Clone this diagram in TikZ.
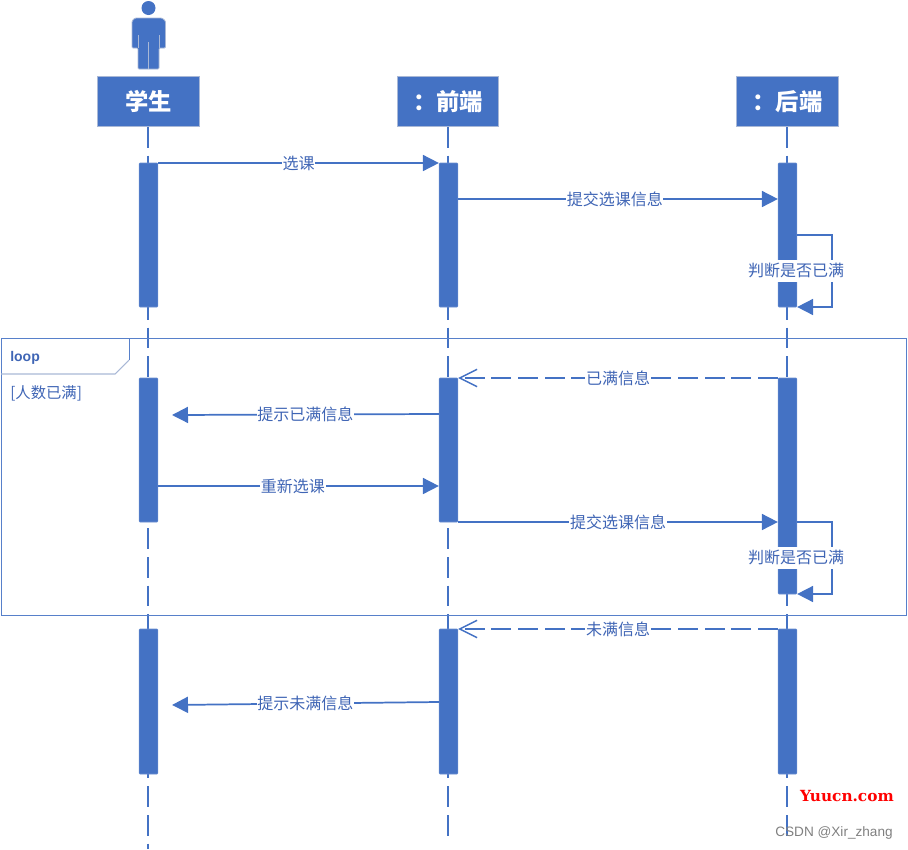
\documentclass[tikz,border=0pt]{standalone}
\usepackage{fontspec}
\setmainfont{Noto Sans CJK SC}
\newfontfamily\latinbold{Liberation Sans}
\newfontfamily\wmserif{DejaVu Serif}
\usetikzlibrary{arrows.meta}
\definecolor{mainblue}{HTML}{4472C4}
\definecolor{textblue}{HTML}{3F65B5}
\definecolor{edgegray}{HTML}{A9B8D6}
\tikzset{
  x=0.75pt,y=-0.75pt,
  header/.style={draw=edgegray,line width=0.8pt,fill=mainblue,text=white,font=\fontsize{17.5}{19}\selectfont\bfseries,minimum width=76pt,minimum height=37.5pt,inner sep=0pt},
  actbar/.style={draw=mainblue!80,line width=0.4pt,fill=mainblue,minimum width=14pt,inner sep=0pt,rounded corners=0.6pt},
  lifeline/.style={draw=mainblue,line width=1.5pt,dash pattern=on 15.5pt off 6pt},
  msg/.style={draw=mainblue,line width=1.3pt,-{Triangle[length=12pt,width=12pt]}},
  ret/.style={draw=mainblue,line width=1.5pt,dash pattern=on 15pt off 5pt,-{Straight Barb[length=13pt,width=13pt,line width=1.1pt]}},
  lab/.style={fill=white,text=textblue,font=\fontsize{12}{14}\selectfont,inner xsep=0.5pt,inner ysep=0.5pt},
  framebox/.style={draw=mainblue!90,line width=0.6pt},
}
\begin{document}
\begin{tikzpicture}
\useasboundingbox (0,0) rectangle (908,850);
% headers
\node[header] (stu) at (148.5,101.5) {学生};
\node[header] (fe) at (448,101.5) {：前端};
\node[header] (be) at (787.5,101.5) {：后端};
% free ends of lifelines
\coordinate (stuEnd) at (148,849);
\coordinate (feEnd) at (448,838);
\coordinate (beEnd) at (787,838);
\draw[lifeline] (148,127) -- (stuEnd);
\draw[lifeline] (fe.south) -- (feEnd);
\draw[lifeline] (787,127) -- (beEnd);
% actor
\fill[mainblue] (148.5,8) circle[radius=7];
\filldraw[fill=mainblue,draw=edgegray,line width=0.6pt,rounded corners=0.8pt]
  (132,48) -- (132,21) -- (135,18) -- (162,18) -- (165.5,21) -- (165.5,48) -- (159,48) -- (159,69) -- (138,69) -- (138,48) -- cycle;
\draw[edgegray,line width=0.6pt] (138,35) -- (138,48) (159,35) -- (159,48) (148.5,42) -- (148.5,69);
% loop frame
\draw[framebox] (1,338) rectangle (906,615);
\draw[framebox,draw=edgegray,line width=0.8pt] (1,374) -- (115,374) -- (129,360);
\draw[framebox] (129,360) -- (129,338);
\node[text=textblue,font=\latinbold\fontsize{10.5}{12}\selectfont\bfseries,anchor=west,inner sep=0pt] (looplab) at (10,358) {loop};
\node[text=textblue,font=\fontsize{11.5}{13}\selectfont,anchor=west,inner sep=0pt] (cond) at (10,393) {[人数已满]};
% activation bars
\node[actbar,minimum height=108pt] (s1) at (148.5,235) {};
\node[actbar,minimum height=108pt] (s2) at (148.5,450) {};
\node[actbar,minimum height=108.75pt] (s3) at (148.5,701.5) {};
\node[actbar,minimum height=108pt] (f1) at (448.5,235) {};
\node[actbar,minimum height=108pt] (f2) at (448.5,450) {};
\node[actbar,minimum height=108.75pt] (f3) at (448.5,701.5) {};
\node[actbar,minimum height=108pt] (b1) at (787.5,235) {};
\node[actbar,minimum height=162pt] (b2) at (787.5,486) {};
\node[actbar,minimum height=108.75pt] (b3) at (787.5,701.5) {};
% free arrow ends
\coordinate (leftA) at (172,415);
\coordinate (leftB) at (172,705);
% messages
\draw[msg] (s1.east |- 0,163) -- node[lab,pos=0.5] {选课} (f1.west |- 0,163);
\draw[msg] (f1.east |- 0,199) -- node[lab,pos=0.49] {提交选课信息} (b1.west |- 0,199);
\draw[msg] (b1.east |- 0,235) -- (832,235) -- (832,307) -- (b1.east |- 0,307);
\node[lab,minimum height=16.5pt] (j1) at (796,270.5) {判断是否已满};
\draw[ret] (b2.west |- 0,378) -- node[lab,pos=0.5] {已满信息} (f2.east |- 0,378);
\draw[msg] (f2.west |- 0,414) -- node[lab,pos=0.5] {提示已满信息} (leftA);
\draw[msg] (s2.east |- 0,486) -- node[lab,pos=0.48] {重新选课} (f2.west |- 0,486);
\draw[msg] (f2.east |- 0,522) -- node[lab,pos=0.5] {提交选课信息} (b2.west |- 0,522);
\draw[msg] (b2.east |- 0,522) -- (832,522) -- (832,594) -- (b2.east |- 0,594);
\node[lab,minimum height=16.5pt] (j2) at (796,557.5) {判断是否已满};
\draw[ret] (b3.west |- 0,629) -- node[lab,pos=0.5] {未满信息} (f3.east |- 0,629);
\draw[msg] (f3.west |- 0,702) -- node[lab,pos=0.5] {提示未满信息} (leftB);
% watermark
\node[text=red,font=\wmserif\fontsize{11.5}{14}\selectfont\bfseries,inner sep=0pt] (wm1) at (847,796) {Yuucn.com};
\node[text=black!50,font=\latinbold\fontsize{10.2}{12}\selectfont,inner sep=0pt] (wm2) at (834,833) {CSDN @Xir\_zhang};
\end{tikzpicture}
\end{document}
